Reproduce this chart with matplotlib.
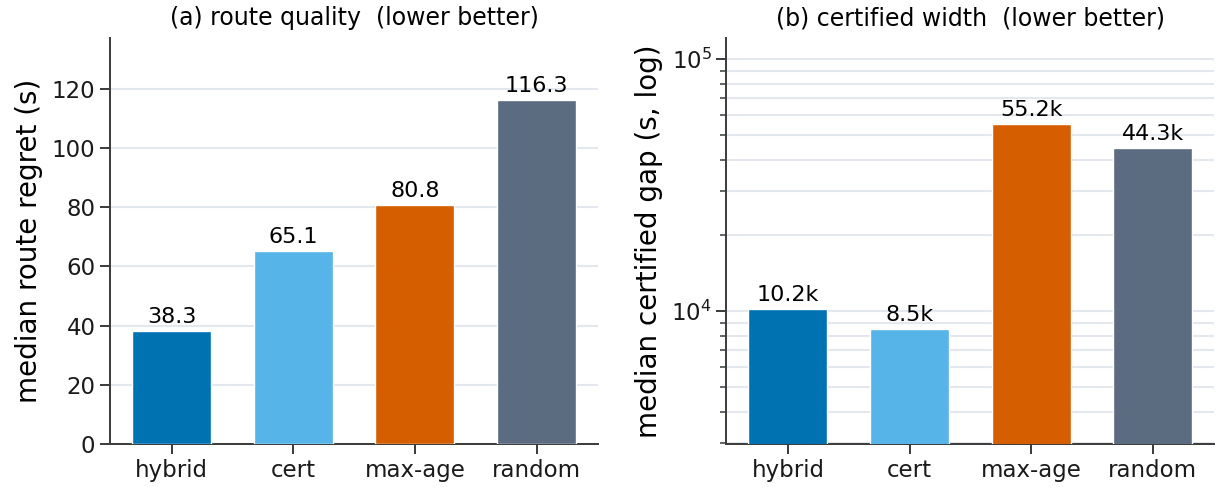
import matplotlib
matplotlib.use("Agg")
import matplotlib.pyplot as plt
from matplotlib.ticker import LogLocator, NullFormatter

methods = ["hybrid", "cert", "max-age", "random"]
route_regret = [38.3, 65.1, 80.8, 116.3]
certified_gap = [10200, 8500, 55200, 44300]
colors = ["#0072B2", "#56B4E9", "#D55E00", "#5B6B80"]

plt.rcParams["font.family"] = "DejaVu Sans"
plt.rcParams["axes.edgecolor"] = "#3a3a3a"
plt.rcParams["xtick.color"] = "#3a3a3a"
plt.rcParams["ytick.color"] = "#3a3a3a"
plt.rcParams["xtick.labelcolor"] = "#1a1a1a"
plt.rcParams["ytick.labelcolor"] = "#1a1a1a"

fig, (ax1, ax2) = plt.subplots(1, 2, figsize=(12.28, 4.87), dpi=100)
fig.subplots_adjust(left=0.0896, right=0.989, bottom=0.0883, top=0.922, wspace=0.262)

grid_color = "#e3e7ee"
label_size = 16
tick_size = 16.5

# (a) route regret, linear scale
ax1.bar(methods, route_regret, width=0.65, color=colors, edgecolor="white",
        linewidth=1.0, zorder=3)
ax1.set_ylim(0, max(route_regret) * 1.18)
ax1.set_yticks(range(0, 121, 20))
for i, v in enumerate(route_regret):
    ax1.annotate(f"{v:.1f}", (i, v), xytext=(0, 3), textcoords="offset points",
                 ha="center", va="bottom", fontsize=label_size)
ax1.set_ylabel("median route regret (s)", fontsize=20, labelpad=6)
ax1.set_title("(a) route quality  (lower better)", fontsize=17, pad=9)
ax1.yaxis.grid(True, color=grid_color, linewidth=1.5, zorder=0)

# (b) certified gap, log scale
ax2.bar(methods, certified_gap, width=0.65, color=colors, edgecolor="white",
        linewidth=1.0, zorder=3)
ax2.set_yscale("log")
ax2.set_ylim(min(certified_gap) * 0.35, max(certified_gap) * 2.2)
ax2.yaxis.set_minor_locator(LogLocator(base=10, subs=range(2, 10)))
ax2.yaxis.set_minor_formatter(NullFormatter())
for i, v in enumerate(certified_gap):
    ax2.annotate(f"{v / 1000:.1f}k", (i, v), xytext=(0, 3), textcoords="offset points",
                 ha="center", va="bottom", fontsize=label_size)
ax2.set_ylabel("median certified gap (s, log)", fontsize=20, labelpad=6)
ax2.set_title("(b) certified width  (lower better)", fontsize=17, pad=9)
ax2.yaxis.grid(True, which="both", color=grid_color, linewidth=1.5, zorder=0)

for ax in (ax1, ax2):
    ax.set_axisbelow(True)
    ax.spines["top"].set_visible(False)
    ax.spines["right"].set_visible(False)
    ax.spines["left"].set_linewidth(1.4)
    ax.spines["bottom"].set_linewidth(1.4)
    ax.tick_params(axis="both", which="major", labelsize=tick_size, length=7, width=1.4)
    ax.tick_params(axis="y", which="minor", length=4, width=1.1)

fig.savefig("out.png", dpi=100)
